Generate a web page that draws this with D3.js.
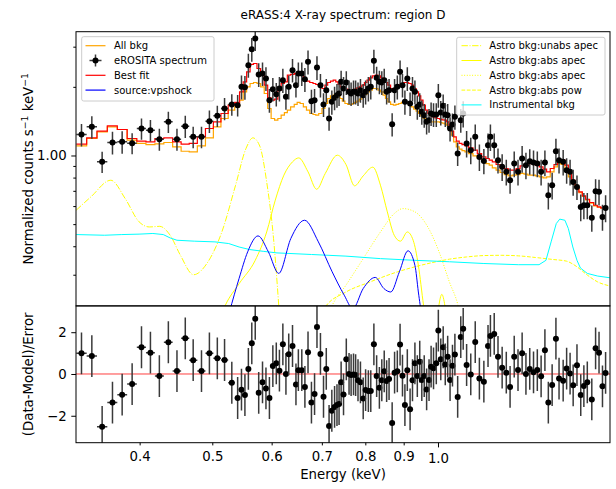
<!DOCTYPE html>
<html><head><meta charset="utf-8">
<script src="https://cdn.jsdelivr.net/npm/d3@7"></script>
<style>body{margin:0;background:#fff} svg{display:block} text{font-family:"DejaVu Sans",sans-serif;}</style>
</head><body><svg id="c" width="616" height="489"></svg>
<script>
// ---------- DATA (energy in keV) ----------
const energy = [0.3346,0.3454,0.3565,0.3680,0.3791,0.3909,0.4023,0.4135,0.4250,0.4369,
0.4486,0.4602,0.4715,0.4837,0.4956,0.5078,0.5192,0.5309,0.5405,0.5469,
0.5527,0.5586,0.5645,0.5705,0.5766,0.5834,0.5896,0.5959,0.6022,0.6086,
0.6145,0.6210,0.6269,0.6323,0.6397,0.6465,0.6513,0.6582,0.6645,0.6709,
0.6780,0.6845,0.6896,0.6970,0.7036,0.7096,0.7157,0.7218,0.7279,0.7333,
0.7380,0.7427,0.7482,0.7546,0.7610,0.7658,0.7715,0.7765,0.7822,0.7881,
0.7948,0.8007,0.8075,0.8135,0.8213,0.8283,0.8353,0.8415,0.8478,0.8541,
0.8605,0.8687,0.8752,0.8826,0.8901,0.8967,0.9034,0.9101,0.9179,0.9247,
0.9316,0.9385,0.9455,0.9515,0.9586,0.9657,0.9729,0.9791,0.9864,0.9948,
1.0011,1.0086,1.0161,1.0226,1.0302,1.0378,1.0455,1.0533,1.0623,1.0725,
1.0805,1.0919,1.1059,1.1212,1.1356,1.1513,1.1661,1.1747,1.1885,1.2024,
1.2178,1.2334,1.2478,1.2638,1.2786,1.2949,1.3101,1.3255,1.3410,1.3567,
1.3726,1.3887,1.4034,1.4199,1.4365,1.4503,1.4688,1.4845,1.5003,1.5146,
1.5324,1.5503,1.5652,1.5818,1.6038,1.6226,1.6398,1.6573,1.6732];

const spectrum = [1.236,1.335,0.938,1.140,1.148,1.132,1.313,1.291,1.179,1.405,
1.179,1.344,1.207,1.207,1.414,1.492,1.607,1.674,1.662,2.000,
1.994,2.490,2.926,3.259,2.266,2.289,2.176,1.748,1.954,1.858,
1.967,2.140,1.808,2.000,2.367,2.034,2.289,2.289,2.160,2.575,
1.731,1.748,2.432,2.034,1.674,1.934,1.453,1.719,1.790,1.839,
1.870,2.104,1.967,2.090,1.902,1.870,1.902,1.902,1.870,1.934,
1.839,1.902,1.967,2.000,2.601,2.191,2.104,2.090,2.140,1.902,
1.934,1.372,1.934,2.000,2.328,2.034,1.719,2.176,1.690,1.967,
1.902,1.634,1.674,1.554,1.502,1.405,1.428,1.528,1.513,1.513,
1.839,1.543,1.651,1.513,1.502,1.313,1.367,1.477,1.020,1.428,
1.528,1.129,1.055,1.207,0.986,0.947,1.110,1.207,1.110,0.954,
0.892,0.848,0.779,0.922,0.848,0.970,0.907,0.944,0.931,0.922,
0.848,0.931,0.670,0.741,1.044,0.954,0.938,0.862,0.848,0.766,
0.728,0.595,0.605,0.605,0.533,0.697,0.693,0.538,0.589];

const spectrumErr = [0.14,0.15,0.10,0.13,0.13,0.12,0.14,0.14,0.13,0.15,
0.13,0.15,0.13,0.13,0.16,0.16,0.18,0.18,0.18,0.24,
0.24,0.30,0.35,0.39,0.27,0.27,0.26,0.21,0.23,0.22,
0.24,0.26,0.22,0.24,0.28,0.24,0.27,0.27,0.26,0.31,
0.21,0.21,0.29,0.24,0.20,0.23,0.17,0.21,0.21,0.22,
0.22,0.25,0.24,0.25,0.23,0.22,0.23,0.23,0.22,0.23,
0.22,0.23,0.24,0.24,0.31,0.26,0.25,0.25,0.26,0.23,
0.23,0.16,0.23,0.24,0.28,0.24,0.21,0.26,0.20,0.24,
0.23,0.20,0.20,0.19,0.18,0.17,0.17,0.18,0.18,0.18,
0.22,0.19,0.20,0.18,0.18,0.16,0.16,0.18,0.12,0.17,
0.20,0.15,0.14,0.16,0.13,0.12,0.14,0.16,0.14,0.12,
0.12,0.11,0.10,0.12,0.11,0.13,0.12,0.12,0.12,0.12,
0.11,0.12,0.09,0.10,0.14,0.12,0.12,0.11,0.11,0.10,
0.09,0.08,0.08,0.08,0.07,0.09,0.09,0.07,0.08];

const bestFit = [1.121,1.195,1.278,1.349,1.300,1.187,1.155,1.148,1.187,1.195,
1.148,1.121,1.129,1.207,1.313,1.405,1.528,1.662,1.708,1.902,
2.104,2.328,2.507,2.532,2.407,2.251,2.034,1.790,1.748,1.766,
1.934,2.069,2.104,2.251,2.266,2.289,2.266,2.251,2.176,2.118,
2.090,2.069,2.048,2.021,1.967,2.034,2.090,2.118,2.140,2.104,
2.048,2.000,1.967,1.954,1.934,1.921,1.934,1.954,1.980,2.000,
2.034,2.090,2.140,2.191,2.235,2.251,2.235,2.191,2.140,2.090,
2.034,1.967,1.967,2.000,2.048,2.069,2.090,2.090,2.069,2.034,
1.967,1.902,1.827,1.748,1.662,1.580,1.528,1.492,1.477,1.463,
1.453,1.443,1.433,1.428,1.405,1.358,1.278,1.207,1.155,1.129,
1.117,1.102,1.080,1.055,1.020,0.986,0.970,0.954,0.938,0.913,
0.892,0.877,0.862,0.862,0.877,0.901,0.913,0.922,0.922,0.907,
0.892,0.871,0.848,0.877,0.913,0.954,0.954,0.907,0.834,0.779,
0.728,0.693,0.665,0.643,0.622,0.605,0.595,0.589,0.585];

const allBkg = [1.102,1.187,1.270,1.335,1.300,1.167,1.129,1.117,1.125,1.140,
1.091,1.044,1.037,1.102,1.195,1.335,1.453,1.580,1.634,1.748,
1.902,2.000,2.069,2.090,2.069,2.000,1.870,1.607,1.453,1.428,
1.453,1.502,1.543,1.580,1.634,1.674,1.708,1.690,1.634,1.580,
1.528,1.513,1.502,1.528,1.607,1.690,1.778,1.827,1.839,1.827,
1.808,1.778,1.731,1.690,1.674,1.674,1.690,1.708,1.731,1.766,
1.808,1.851,1.902,1.934,1.967,1.967,1.934,1.902,1.839,1.778,
1.719,1.674,1.662,1.674,1.690,1.708,1.719,1.708,1.674,1.634,
1.596,1.564,1.528,1.492,1.453,1.428,1.414,1.405,1.405,1.405,
1.405,1.395,1.386,1.377,1.358,1.304,1.228,1.148,1.091,1.066,
1.051,1.037,1.020,0.996,0.970,0.944,0.922,0.907,0.883,0.862,
0.842,0.825,0.814,0.820,0.825,0.834,0.828,0.820,0.820,0.814,
0.806,0.798,0.806,0.848,0.892,0.922,0.913,0.877,0.806,0.761,
0.721,0.688,0.661,0.639,0.618,0.601,0.593,0.587,0.583];

const residuals = [0.99,0.86,-2.53,-1.37,-0.99,-0.48,1.28,1.02,-0.10,1.52,
0.14,1.71,0.66,0.14,0.99,0.75,0.67,-0.42,-1.15,-0.75,
-1.01,0.24,1.47,2.64,-0.90,-0.40,-0.69,-1.15,0.38,0.51,
0.16,1.42,0.00,0.94,1.34,-0.50,0.18,0.18,-0.62,1.04,
-1.37,-0.96,2.25,0.96,-1.09,0.24,-2.49,-1.76,-1.58,-1.49,
-1.44,-0.40,-0.98,0.70,0.00,-0.05,-0.02,-0.05,-0.30,-0.40,
-1.17,-0.77,-0.82,-0.82,1.42,-0.10,-0.66,-0.30,0.13,-0.34,
-0.24,-2.35,0.06,0.13,1.41,-0.08,-1.49,0.18,-1.69,-0.30,
0.51,-0.10,0.59,-0.29,-0.10,-0.74,-0.29,0.35,0.27,0.51,
2.08,0.70,1.28,0.46,0.83,-0.29,0.40,0.93,-1.10,1.77,
2.16,0.43,-0.02,1.53,-0.22,-0.37,1.34,1.82,1.92,0.82,
0.30,0.06,-0.62,0.83,0.19,0.99,0.00,0.24,0.08,0.19,
-0.11,1.14,-1.37,-0.53,1.69,-0.22,-0.32,0.26,0.02,-0.54,
0.42,-1.01,-0.58,-0.40,-1.22,1.23,1.02,-0.59,0.05];

// model components: [energy keV, normalized counts]
const unabsApec = [[0.3293,0.576],[0.3443,0.658],[0.3661,0.779],[0.3827,0.647],[0.3993,0.512],[0.4122,0.486],[0.4255,0.489],[0.4393,0.447],[0.4534,0.365],[0.4720,0.300],[0.4935,0.342],[0.5149,0.462],[0.5371,0.741],[0.5545,1.073],[0.5664,1.195],[0.5785,1.10],[0.5909,0.766],[0.6035,0.432],[0.6132,0.220],[0.6197,0.130]];
const absApec1 = [[0.5041,0.168],[0.5203,0.220],[0.5429,0.274],[0.5705,0.347],[0.5909,0.462],[0.6067,0.637],[0.6230,0.820],[0.6397,0.938],[0.6520,0.976],[0.6709,0.848],[0.6889,0.711],[0.7074,0.834],[0.7341,1.003],[0.7538,0.913],[0.7740,0.736],[0.7948,0.814],[0.8187,0.889],[0.8380,0.741],[0.8559,0.566],[0.8742,0.447],[0.8911,0.421],[0.9101,0.462],[0.9266,0.425],[0.9415,0.330],[0.9566,0.220],[0.9719,0.153],[0.9927,0.181],[1.0118,0.246],[1.0313,0.181],[1.0522,0.130]];
const absApec2 = [[0.7000,0.170],[0.7225,0.220],[0.7538,0.270],[0.7948,0.353],[0.8380,0.462],[0.8742,0.556],[0.8977,0.585],[0.9316,0.566],[0.9719,0.478],[1.0033,0.378],[1.0356,0.279],[1.0634,0.220],[1.0862,0.153]];
const absPow = [[0.6900,0.190],[0.7074,0.217],[0.7538,0.252],[0.8118,0.279],[0.8835,0.309],[0.9316,0.325],[0.9822,0.339],[1.0356,0.351],[1.0919,0.359],[1.1513,0.364],[1.2139,0.365],[1.2799,0.363],[1.3495,0.357],[1.4228,0.350],[1.4845,0.344],[1.5324,0.325],[1.5818,0.299],[1.6329,0.279],[1.6946,0.268]];
const instrBkg = [[0.3293,0.450],[0.3592,0.447],[0.3787,0.450],[0.3993,0.452],[0.4166,0.455],[0.4301,0.450],[0.4393,0.435],[0.4486,0.425],[0.4731,0.421],[0.5041,0.418],[0.5259,0.411],[0.5429,0.397],[0.5604,0.387],[0.5846,0.380],[0.6099,0.374],[0.6780,0.368],[0.7538,0.362],[0.8380,0.353],[0.9316,0.347],[1.0356,0.342],[1.1513,0.336],[1.2799,0.332],[1.3639,0.332],[1.3931,0.347],[1.4154,0.418],[1.4380,0.503],[1.4534,0.526],[1.4766,0.520],[1.4924,0.478],[1.5130,0.397],[1.5324,0.347],[1.5487,0.321],[1.5818,0.304],[1.6329,0.296],[1.6946,0.291]];
const vpshock = [[0.5270,0.206],[0.5429,0.289],[0.5574,0.378],[0.5754,0.444],[0.5940,0.378],[0.6132,0.304],[0.6363,0.432],[0.6638,0.520],[0.6926,0.418],[0.7225,0.309],[0.7498,0.244],[0.7699,0.213],[0.7948,0.261],[0.8248,0.292],[0.8469,0.261],[0.8650,0.252],[0.8882,0.309],[0.9120,0.382],[0.9316,0.330],[0.9415,0.252],[0.9515,0.193],[0.9617,0.130]];

const xMinorTicks = [0.4,0.5,0.6,0.7,0.8,0.9];
const xMajorTicks = [1.0];
const yMinorTicks = [0.3,0.4,0.5,0.6,0.7,0.8,0.9,2,3];
const yMajorTicks = [1.0];
const resTicks = [-2,0,2];

// ---------- LAYOUT ----------
const svg = d3.select('#c');
const L = 76, R = 610, T = 31.7, MID = 305.9, B = 442.7;
const FS = 13.3;
const x = d3.scaleLog().domain([0.329, 1.696]).range([L, R]);
const y = d3.scaleLog().domain([0.219, 3.49]).range([MID, T]);
const yr = d3.scaleLinear().domain([-3.29, 3.26]).range([B, MID]);

svg.append('rect').attr('width',616).attr('height',489).attr('fill','#fff');
const defs = svg.append('defs');
defs.append('clipPath').attr('id','clipTop').append('rect').attr('x',L).attr('y',T).attr('width',R-L).attr('height',MID-T);
defs.append('clipPath').attr('id','clipRes').append('rect').attr('x',L).attr('y',MID).attr('width',R-L).attr('height',B-MID);

const n = energy.length;
const lo = energy.map((e,i)=> i===0 ? e*e/Math.sqrt(e*energy[1]) : Math.sqrt(energy[i-1]*e));
const hi = energy.map((e,i)=> i===n-1 ? e*e/Math.sqrt(energy[n-2]*e) : Math.sqrt(e*energy[i+1]));

const gTop = svg.append('g').attr('clip-path','url(#clipTop)');
const gRes = svg.append('g').attr('clip-path','url(#clipRes)');

const stepLine = d3.line().x(d=>x(d[0])).y(d=>y(d[1])).curve(d3.curveStepAfter);
const stepPts = vals => { const p = vals.map((v,i)=>[lo[i],v]); p.push([hi[n-1], vals[n-1]]); return p; };
const smooth = d3.line().x(d=>x(d[0])).y(d=>y(d[1])).curve(d3.curveMonotoneX);

const comps = [
  {d: unabsApec, c:'#ffff00', dash:'6.4,1.6,1,1.6'},
  {d: absApec1, c:'#ffff00', dash:null},
  {d: absApec2, c:'#ffff00', dash:'1,1.65'},
  {d: absPow, c:'#ffff00', dash:'3.7,1.6'},
  {d: instrBkg, c:'#00ffff', dash:null, lin:true},
];
comps.forEach(cp=>{
  const ln = cp.lin ? d3.line().x(d=>x(d[0])).y(d=>y(d[1])) : smooth;
  gTop.append('path').attr('d', ln(cp.d)).attr('fill','none').attr('stroke',cp.c).attr('stroke-width',1)
    .attr('stroke-dasharray', cp.dash);
});
gTop.append('path').attr('d', smooth(vpshock)).attr('fill','none').attr('stroke','#0000ff').attr('stroke-width',1);
gTop.append('path').attr('d', stepLine(stepPts(allBkg))).attr('fill','none').attr('stroke','#ffa500').attr('stroke-width',1.2);
gTop.append('path').attr('d', stepLine(stepPts(bestFit))).attr('fill','none').attr('stroke','#ff0000').attr('stroke-width',1.2);

// data points top
const ecol = '#3a3a3a';
const pts = gTop.append('g');
energy.forEach((e,i)=>{
  const v = spectrum[i], s = spectrumErr[i];
  pts.append('line').attr('x1',x(e)).attr('x2',x(e)).attr('y1',y(v-s)).attr('y2',y(v+s)).attr('stroke',ecol).attr('stroke-width',1.5);
  pts.append('line').attr('x1',x(lo[i])).attr('x2',x(hi[i])).attr('y1',y(v)).attr('y2',y(v)).attr('stroke',ecol).attr('stroke-width',1.5);
  pts.append('circle').attr('cx',x(e)).attr('cy',y(v)).attr('r',3).attr('fill','#000');
});

// residuals
gRes.append('line').attr('x1',L).attr('x2',R).attr('y1',yr(0)).attr('y2',yr(0)).attr('stroke','#ff0000').attr('stroke-width',1).attr('opacity',0.75);
energy.forEach((e,i)=>{
  const r = residuals[i];
  gRes.append('line').attr('x1',x(e)).attr('x2',x(e)).attr('y1',yr(r-1)).attr('y2',yr(r+1)).attr('stroke',ecol).attr('stroke-width',1.5);
  gRes.append('line').attr('x1',x(lo[i])).attr('x2',x(hi[i])).attr('y1',yr(r)).attr('y2',yr(r)).attr('stroke',ecol).attr('stroke-width',1.5);
  gRes.append('circle').attr('cx',x(e)).attr('cy',yr(r)).attr('r',3).attr('fill','#000');
});

// frames
svg.append('rect').attr('x',L).attr('y',T).attr('width',R-L).attr('height',MID-T).attr('fill','none').attr('stroke','#000').attr('stroke-width',1);
svg.append('rect').attr('x',L).attr('y',MID).attr('width',R-L).attr('height',B-MID).attr('fill','none').attr('stroke','#000').attr('stroke-width',1);

// axes
function styleAxis(g){ g.select('.domain').remove(); g.selectAll('text').attr('font-size',FS).attr('font-family','DejaVu Sans').attr('fill','#000'); g.selectAll('line').attr('stroke','#000').attr('stroke-width',1); }
svg.append('g').attr('transform',`translate(0,${B})`)
  .call(d3.axisBottom(x).tickValues(xMinorTicks).tickSize(2.7).tickPadding(5.8).tickFormat(d3.format('.1f'))).call(styleAxis);
svg.append('g').attr('transform',`translate(0,${B})`)
  .call(d3.axisBottom(x).tickValues(xMajorTicks).tickSize(4.7).tickPadding(6.4).tickFormat(d3.format('.1f'))).call(styleAxis);
svg.append('g').attr('transform',`translate(${L},0)`)
  .call(d3.axisLeft(y).tickValues(yMinorTicks).tickSize(2.7).tickFormat('')).call(styleAxis);
svg.append('g').attr('transform',`translate(${L},0)`)
  .call(d3.axisLeft(y).tickValues(yMajorTicks).tickSize(4.7).tickPadding(4.6).tickFormat(d3.format('.2f'))).call(styleAxis);
svg.append('g').attr('transform',`translate(${L},0)`)
  .call(d3.axisLeft(yr).tickValues(resTicks).tickSize(4.7).tickPadding(4.6).tickFormat(d=>d<0?'\u2212'+Math.abs(d):String(d))).call(styleAxis);

// labels
svg.append('text').attr('x',(L+R)/2).attr('y',18.5).attr('text-anchor','middle').attr('font-size',12).text('eRASS:4 X-ray spectrum: region D');
svg.append('text').attr('x',(L+R)/2).attr('y',479).attr('text-anchor','middle').attr('font-size',FS).text('Energy (keV)');
const yl = svg.append('text').attr('transform',`translate(33,${(T+MID)/2}) rotate(-90)`).attr('text-anchor','middle').attr('font-size',FS);
yl.append('tspan').text('Normalized counts s');
yl.append('tspan').attr('font-size',9.3).attr('dy',-5).text('\u22121');
yl.append('tspan').attr('dy',5).text(' keV');
yl.append('tspan').attr('font-size',9.3).attr('dy',-5).text('\u22121');
svg.append('text').attr('transform',`translate(33,${(MID+B)/2}) rotate(-90)`).attr('text-anchor','middle').attr('font-size',FS).text('(Data-Model)/Error');

// legends
function legendBox(x0,y0,w,h){ svg.append('rect').attr('x',x0).attr('y',y0).attr('width',w).attr('height',h).attr('rx',2).attr('fill','#fff').attr('fill-opacity',0.8).attr('stroke','#cccccc').attr('stroke-width',1); }
legendBox(81.7,36.7,132.3,64.3);
const leftItems = [
  {label:'All bkg', c:'#ffa500', type:'line'},
  {label:'eROSITA spectrum', type:'err'},
  {label:'Best fit', c:'#ff0000', type:'line'},
  {label:'source:vpshock', c:'#0000ff', type:'line'}
];
leftItems.forEach((it,i)=>{
  const yy = 45.7 + i*14.8;
  if(it.type==='line') svg.append('line').attr('x1',85.5).attr('x2',105.5).attr('y1',yy).attr('y2',yy).attr('stroke',it.c).attr('stroke-width',1.2);
  else {
    svg.append('line').attr('x1',89.5).attr('x2',101.5).attr('y1',yy).attr('y2',yy).attr('stroke',ecol).attr('stroke-width',1.5);
    svg.append('line').attr('x1',95.5).attr('x2',95.5).attr('y1',yy-6).attr('y2',yy+6).attr('stroke',ecol).attr('stroke-width',1.5);
    svg.append('circle').attr('cx',95.5).attr('cy',yy).attr('r',3).attr('fill','#000');
  }
  svg.append('text').attr('x',114).attr('y',yy).attr('dy','0.35em').attr('font-size',10).text(it.label);
});
legendBox(456.7,37.3,148.3,77.7);
const rightItems = [
  {label:'Astro bkg:unabs apec', c:'#ffff00', dash:'6.4,1.6,1,1.6'},
  {label:'Astro bkg:abs apec', c:'#ffff00', dash:null},
  {label:'Astro bkg:abs apec', c:'#ffff00', dash:'1,1.65'},
  {label:'Astro bkg:abs pow', c:'#ffff00', dash:'3.7,1.6'},
  {label:'Instrumental bkg', c:'#00ffff', dash:null}
];
rightItems.forEach((it,i)=>{
  const yy = 45.7 + i*14.8;
  svg.append('line').attr('x1',461.5).attr('x2',481.5).attr('y1',yy).attr('y2',yy).attr('stroke',it.c).attr('stroke-width',1).attr('stroke-dasharray',it.dash);
  svg.append('text').attr('x',489.3).attr('y',yy).attr('dy','0.35em').attr('font-size',10).text(it.label);
});
</script></body></html>
